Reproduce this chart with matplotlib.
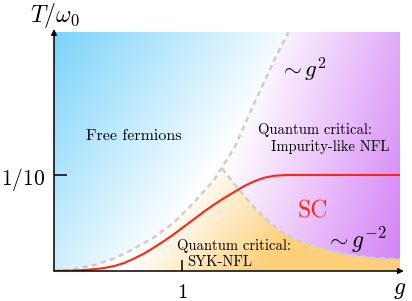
import numpy as np
import matplotlib
matplotlib.use('Agg')
import matplotlib.pyplot as plt
from matplotlib.patches import Polygon

plt.rcParams['mathtext.fontset'] = 'cm'

# ---- data ----
# crossover line ~ g^2
g2_g = [0.0, 0.16, 0.31, 0.47, 0.62, 0.78, 0.94, 1.09, 1.25, 1.41, 1.56, 1.72, 1.83]
g2_T = [0.0, 0.002, 0.006, 0.013, 0.023, 0.035, 0.051, 0.071, 0.095, 0.129, 0.174, 0.220, 0.249]
# crossover line ~ g^-2
gm2_g = [1.31, 1.40, 1.53, 1.66, 1.77, 1.92, 2.08, 2.29, 2.49, 2.70]
gm2_T = [0.107, 0.092, 0.071, 0.053, 0.041, 0.031, 0.024, 0.017, 0.0135, 0.0125]
# superconducting Tc
sc_g = [0.0, 0.078, 0.156, 0.234, 0.313, 0.39, 0.469, 0.547, 0.625, 0.703,
        0.781, 0.859, 0.938, 1.016, 1.094, 1.172, 1.25, 1.328, 1.406, 1.484,
        1.563, 1.641, 1.719, 1.797, 1.875, 2.70]
sc_T = [0.0, 0.0002, 0.0005, 0.001, 0.0019, 0.0031, 0.0052, 0.0083, 0.013, 0.0182,
        0.0245, 0.0313, 0.0385, 0.0464, 0.0542, 0.062, 0.0693, 0.076, 0.0823, 0.0885,
        0.0935, 0.0972, 0.0992, 0.0999, 0.100, 0.100]

g_max = 2.70
T_max = 0.249
xtick_vals = [1]
xtick_labels = [r'$1$']
ytick_vals = [0.1]
ytick_labels = [r'$1/10$']

blue = np.array([122, 211, 250]) / 255.0
purple = np.array([210, 127, 245]) / 255.0
orange = np.array([253, 208, 121]) / 255.0

fig = plt.figure(figsize=(4.12, 3.01), dpi=100)
ax = fig.add_axes([54 / 412, 30 / 301, 346 / 412, 239 / 301])
ax.set_xlim(0, g_max)
ax.set_ylim(0, T_max)

nx, ny = 400, 300
U, W = np.meshgrid(np.linspace(0, 1, nx), np.linspace(0, 1, ny))


def grad_img(s, col):
    s = np.clip(s, 0, 1)[..., None]
    return (1 - s) * np.ones(3) + s * col


s_blue = 1 - 1.35 * U - 0.65 * (1 - W)
s_purple = 1.65 * (U - 0.49) + 0.33 * (0.43 - W)
s_orange = (U - 0.2) / 0.4 - 1.4 * W

g_cross = gm2_g[0]
# polygons
blue_xy = [(0, 0)] + list(zip(g2_g, g2_T)) + [(0, T_max)]
orange_xy = ([(x, y) for x, y in zip(g2_g, g2_T) if x < g_cross]
             + list(zip(gm2_g, gm2_T)) + [(g_max, 0), (0, 0)])
purple_xy = (list(zip(gm2_g, gm2_T)) + [(g_max, T_max)]
             + [(x, y) for x, y in zip(g2_g[::-1], g2_T[::-1]) if x > g_cross])

for s, col, xy in [(s_blue, blue, blue_xy), (s_orange, orange, orange_xy),
                   (s_purple, purple, purple_xy)]:
    im = ax.imshow(grad_img(s, col), origin='lower', extent=(0, g_max, 0, T_max),
                   aspect='auto', interpolation='bilinear', zorder=1)
    patch = Polygon(xy, closed=True, transform=ax.transData)
    im.set_clip_path(patch)

ax.plot(g2_g, g2_T, color='#cdcdcd', lw=1.8, dashes=(2.2, 1.6), zorder=3)
ax.plot(gm2_g, gm2_T, color='#cdcdcd', lw=1.8, dashes=(2.2, 1.6), zorder=3)
ax.plot(sc_g, sc_T, color='#ff2414', lw=1.5, zorder=4)

for s in ax.spines.values():
    s.set_visible(False)

arrow_kw = dict(arrowstyle='-|>', color='k', lw=1.1, mutation_scale=8,
                shrinkA=0, shrinkB=0)
ax.annotate('', xy=(g_max + 0.03, 0), xytext=(0, 0), arrowprops=arrow_kw,
            annotation_clip=False, zorder=5)
ax.annotate('', xy=(0, T_max + 0.003), xytext=(0, 0), arrowprops=arrow_kw,
            annotation_clip=False, zorder=5)

ax.set_xticks(xtick_vals)
ax.set_xticklabels(xtick_labels, fontsize=15)
ax.set_yticks(ytick_vals)
ax.set_yticklabels(ytick_labels, fontsize=15.5)
ax.tick_params(axis='x', direction='in', length=8, width=1.1, pad=8)
ax.tick_params(axis='y', direction='in', length=9.5, width=1.1, pad=6)
for t in ax.get_xticklines() + ax.get_yticklines():
    t.set_zorder(6)

tkw = dict(transform=ax.transAxes, ha='center', va='center')
ax.text(0.003, 1.067, r'$T/\omega_0$', fontsize=17, **tkw)
ax.text(1.0, -0.075, r'$g$', fontsize=17, **tkw)
ax.text(0.231, 0.565, 'Free fermions', fontsize=11.5, family='cmr10', **tkw)
ax.text(0.718, 0.841, r'$\sim g^2$', fontsize=16.5, **tkw)
ax.text(0.754, 0.590, 'Quantum critical:', fontsize=10.5, family='cmr10', **tkw)
ax.text(0.798, 0.519, 'Impurity-like NFL', fontsize=10.5, family='cmr10', **tkw)
ax.text(0.749, 0.251, 'SC', fontsize=17, family='cmr10', color='#ff2414', **tkw)
ax.text(0.872, 0.130, r'$\sim g^{-2}$', fontsize=17, **tkw)
ax.text(0.520, 0.105, 'Quantum critical:', fontsize=10.5, family='cmr10', **tkw)
ax.text(0.480, 0.038, 'SYK-NFL', fontsize=10.5, family='cmr10', **tkw)

fig.savefig('out.png', dpi=100)
